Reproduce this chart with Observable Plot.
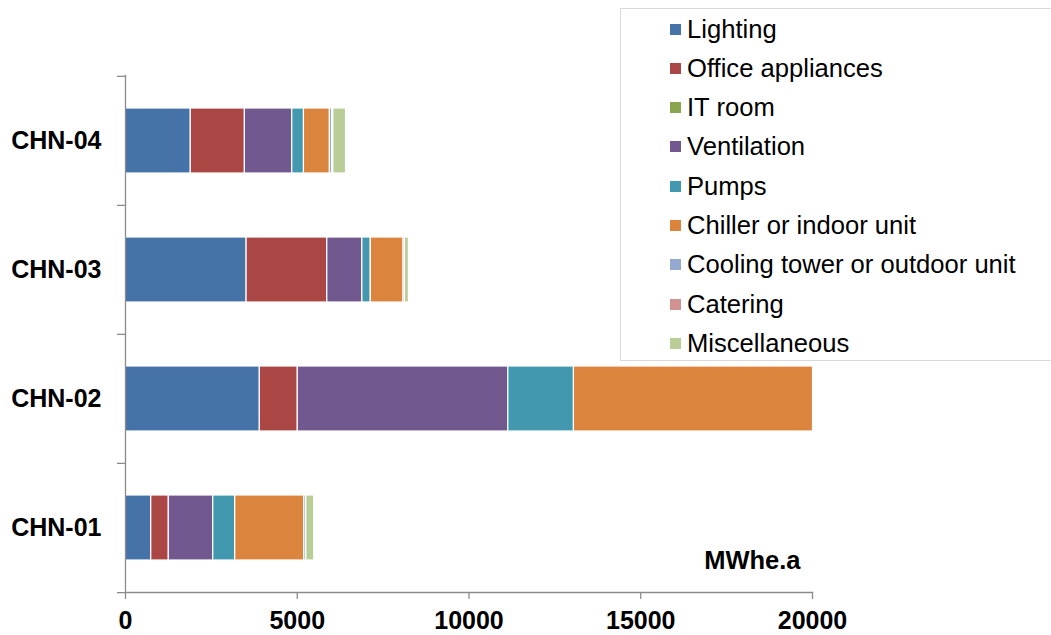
<!DOCTYPE html>
<html>
<head>
<meta charset="utf-8">
<script src="https://cdn.jsdelivr.net/npm/d3@7"></script>
<script src="https://cdn.jsdelivr.net/npm/@observablehq/plot@0.6"></script>
<style>
  html, body { margin: 0; padding: 0; background: #fff; overflow: hidden; }
  #wrap { position: relative; width: 1051px; height: 635px; font-family: "Liberation Sans", Arial, sans-serif; }
  #legend { position: absolute; left: 620px; top: 8px; width: 440px; height: 353px; border: 1px solid #d9d9d9; background: #fff; box-sizing: border-box; }
  .item { position: absolute; left: 49px; height: 30px; display: flex; align-items: center; font-size: 25.6px; color: #000; white-space: nowrap; }
  .sw { width: 11px; height: 11px; margin-right: 6px; flex: none; }
</style>
</head>
<body>
<div id="wrap"><div id="chart"></div><div id="legend"></div></div>
<script>
const buildings = ["CHN-04", "CHN-03", "CHN-02", "CHN-01"];
const uses = ["Lighting", "Office appliances", "IT room", "Ventilation", "Pumps",
  "Chiller or indoor unit", "Cooling tower or outdoor unit", "Catering", "Miscellaneous"];
const colors = ["#4572A7", "#AA4643", "#89A54E", "#71588F", "#4198AF",
  "#DB843D", "#93A9CF", "#D19392", "#B9CD96"];
// MWhe.a per end use, in the order of `uses`
const chn01 = [750, 510, 0, 1295, 640, 2010, 60, 0, 230];
const chn02 = [3910, 1105, 0, 6130, 1910, 6960, 0, 0, 0];
const chn03 = [3525, 2350, 0, 1020, 245, 955, 40, 0, 115];
const chn04 = [1900, 1575, 0, 1380, 340, 755, 70, 30, 370];
const xTicks = [0, 5000, 10000, 15000, 20000];
const unitLabel = "MWhe.a";

const series = {"CHN-01": chn01, "CHN-02": chn02, "CHN-03": chn03, "CHN-04": chn04};
const data = [];
for (const b of buildings) series[b].forEach((v, i) => { if (v > 0) data.push({building: b, use: uses[i], value: v}); });

const W = 1051, H = 635, mT = 75, mB = 43, mL = 125, mR = 239;
const step = (H - mT - mB) / buildings.length;
const axisColor = "#8c8c8c";

const chart = Plot.plot({
  width: W, height: H,
  marginTop: mT, marginBottom: mB, marginLeft: mL, marginRight: mR,
  style: {fontFamily: "'Liberation Sans', Arial, sans-serif", background: "white"},
  x: {domain: [0, 20000]},
  y: {domain: buildings, paddingInner: 0.5, paddingOuter: 0.25},
  color: {domain: uses, range: colors},
  marks: [
    Plot.barX(data, Plot.stackX({x: "value", y: "building", fill: "use", order: uses, stroke: "white", strokeWidth: 1.2})),
    Plot.frame({anchor: "bottom", stroke: axisColor, strokeWidth: 1.3}),
    Plot.frame({anchor: "left", stroke: axisColor, strokeWidth: 1.3}),
    Plot.axisX({ticks: xTicks, tickSize: 7, tickPadding: 12, stroke: axisColor, strokeWidth: 1.3,
      fontSize: 25, fontWeight: "bold", fill: "black", tickFormat: d => String(d), label: null}),
    Plot.axisY({ticks: buildings, tickSize: 0, tickPadding: 24, fontSize: 25, fontWeight: "bold", fill: "black", label: null}),
    Plot.axisY({ticks: buildings, tickSize: 8, stroke: axisColor, strokeWidth: 1.3, text: null, tickFormat: () => "", dy: -step / 2, label: null}),
    Plot.axisY({ticks: [buildings[buildings.length - 1]], tickSize: 8, stroke: axisColor, strokeWidth: 1.3, tickFormat: () => "", dy: step / 2, label: null}),
    Plot.text([unitLabel], {frameAnchor: "bottom-right", textAnchor: "end", dx: -12, dy: -24, fontWeight: "bold", fontSize: 25.5, fill: "black"})
  ]
});
document.getElementById("chart").appendChild(chart);

const legend = document.getElementById("legend");
uses.forEach((u, i) => {
  const it = document.createElement("div");
  it.className = "item";
  it.style.top = (5 + 39.3 * i) + "px";
  const sw = document.createElement("span");
  sw.className = "sw";
  sw.style.background = colors[i];
  it.appendChild(sw);
  it.appendChild(document.createTextNode(u));
  legend.appendChild(it);
});
</script>
</body>
</html>
